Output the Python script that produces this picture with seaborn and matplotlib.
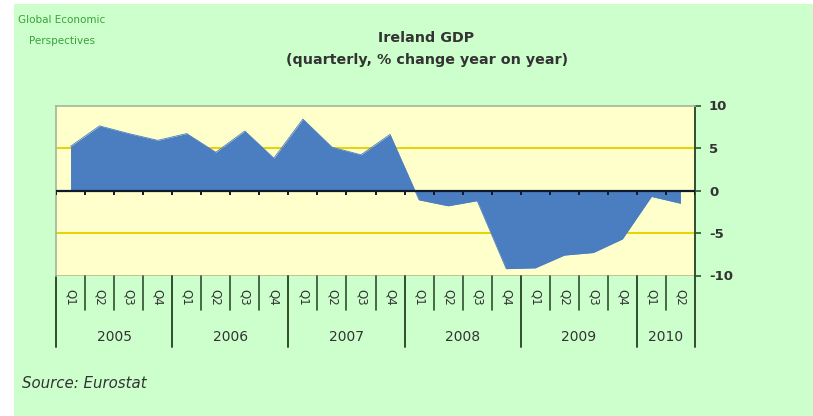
import matplotlib
matplotlib.use("Agg")
import matplotlib.pyplot as plt
import matplotlib.transforms as mtransforms
import numpy as np
import pandas as pd
import seaborn as sns

# Irish GDP, quarterly, % change year on year
years = ["2005", "2006", "2007", "2008", "2009", "2010"]
quarters_per_year = [4, 4, 4, 4, 4, 2]
quarter_labels = ["Q1", "Q2", "Q3", "Q4"] * 5 + ["Q1", "Q2"]
gdp_change = [5.2, 7.6, 6.7, 5.9,
              6.7, 4.5, 7.0, 3.8,
              8.4, 5.1, 4.2, 6.6,
              -1.1, -1.8, -1.2, -9.2,
              -9.1, -7.6, -7.3, -5.7,
              -0.7, -1.5]
y_ticks = [10, 5, 0, -5, -10]

df = pd.DataFrame({"idx": np.arange(len(gdp_change)), "gdp": gdp_change})

sns.set_theme(style="white")
plt.rcParams["font.family"] = ["DejaVu Sans"]

FIG_BG = "#CCFFCC"
PLOT_BG = "#FFFFCC"
FILL = "#4A7EC0"
AXIS = "#2F4F2F"
ZERO = "#0F1A2A"
TEXT = "#333333"
GRID = "#E8D400"

W, H = 813, 416
fig = plt.figure(figsize=(W / 100, H / 100), dpi=100)
fig.patch.set_facecolor("white")
# green panel with a thin white margin on the left and top
fig.patches.append(plt.Rectangle((14 / W, 0), 1 - 14 / W, 1 - 4 / H,
                                 transform=fig.transFigure, facecolor=FIG_BG,
                                 edgecolor="none", zorder=0))

left, right, top, bottom = 56, 695, 105.5, 275.5
ax = fig.add_axes([left / W, 1 - bottom / H, (right - left) / W, (bottom - top) / H])
ax.set_zorder(2)
ax.set_facecolor(PLOT_BG)

# area series
ax.fill_between(df["idx"], df["gdp"], 0, color=FILL, linewidth=0, zorder=0.8)
sns.lineplot(data=df, x="idx", y="gdp", ax=ax, color=FILL, linewidth=0.6, zorder=0.8)

ax.set_xlim(-0.5, len(gdp_change) - 0.5)
ax.set_ylim(-10, 10)

# yellow gridlines at +/-5
for v in (5, -5):
    ax.axhline(v, color=GRID, linewidth=1.4, zorder=0.6)

# y axis on the right
ax.yaxis.tick_right()
ax.set_yticks(y_ticks)
ax.set_yticklabels([str(v) for v in y_ticks], fontsize=9.5, color=TEXT, fontweight="bold")
ax.tick_params(axis="y", direction="out", length=4, width=1.2, color=AXIS, pad=6, right=True, left=False)
ax.set_ylabel("")
ax.set_xlabel("")

# category axis drawn along zero, with small marks at the category boundaries
ax.set_xticks([])
ax.spines["bottom"].set_visible(False)
ax.axhline(0, color=ZERO, linewidth=1.6, zorder=4)
boundaries = np.arange(-0.5, len(gdp_change), 1.0)
ax.vlines(boundaries, 0, -0.55, color=ZERO, linewidth=1.4, zorder=4)

ax.spines["right"].set_color(AXIS)
ax.spines["right"].set_linewidth(1.4)
for s in ("top", "left"):
    ax.spines[s].set_color("#A8B49A")
    ax.spines[s].set_linewidth(1.2)
ax.axhline(-10, color="#B8B890", linewidth=1.2, zorder=0.6)

# multi-level category labels below the plot
trans = mtransforms.blended_transform_factory(ax.transData, ax.transAxes)
q_bottom = -(310 - bottom) / (bottom - top)
y_bottom = -(347 - bottom) / (bottom - top)
q_text_y = -(297 - bottom) / (bottom - top)
yr_text_y = -(337 - bottom) / (bottom - top)

for i, q in enumerate(quarter_labels):
    ax.text(i, q_text_y, q, transform=trans, rotation=270, ha="center", va="center",
            fontsize=8.5, color=TEXT)

start = 0
year_edges = [-0.5]
for yr, n in zip(years, quarters_per_year):
    for k in range(1, n):
        x = start + k - 0.5
        ax.plot([x, x], [0, q_bottom], transform=trans, color=AXIS, linewidth=1.2, clip_on=False)
    ax.text(start + (n - 1) / 2, yr_text_y, yr, transform=trans, ha="center", va="center",
            fontsize=10, color=TEXT)
    start += n
    year_edges.append(start - 0.5)
for x in year_edges:
    ax.plot([x, x], [0, y_bottom], transform=trans, color=AXIS, linewidth=1.4, clip_on=False)

# titles and annotations
fig.text(426 / W, 1 - 38 / H, "Ireland GDP", ha="center", va="center",
         fontsize=10.3, fontweight="bold", color=TEXT)
fig.text(427 / W, 1 - 60 / H, "(quarterly, % change year on year)", ha="center", va="center",
         fontsize=10.3, fontweight="bold", color=TEXT)
fig.text(62 / W, 1 - 20 / H, "Global Economic", ha="center", va="center",
         fontsize=7.5, color="#3AA23A", family=["Liberation Sans Narrow", "DejaVu Sans"])
fig.text(62 / W, 1 - 41 / H, "Perspectives", ha="center", va="center",
         fontsize=7.5, color="#3AA23A", family=["Liberation Sans Narrow", "DejaVu Sans"])
fig.text(22 / W, 1 - 383 / H, "Source: Eurostat", ha="left", va="center",
         fontsize=10.8, fontstyle="italic", color=TEXT)

fig.savefig("out.png", dpi=100, facecolor=fig.get_facecolor())
